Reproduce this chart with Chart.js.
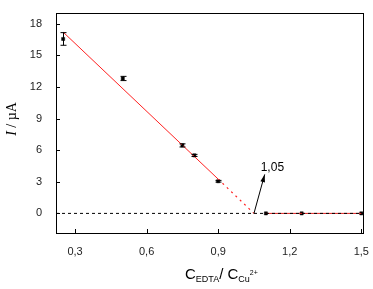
<!DOCTYPE html>
<html>
<head>
<meta charset="utf-8">
<script src="https://cdn.jsdelivr.net/npm/chart.js@4/dist/chart.umd.min.js"></script>
<style>
  html, body { margin: 0; padding: 0; background: #fff; }
  canvas { display: block; }
</style>
</head>
<body>
<canvas id="chart" width="373" height="289"></canvas>
<script>
// measured points (C_EDTA / C_Cu2+ vs I)
const ratio = [0.25, 0.5, 0.75, 0.8, 0.9, 1.1, 1.25, 1.5];
const current = [16.55, 12.8, 6.45, 5.5, 3.05, 0, 0, 0];
const currentErr = [0.6, 0.2, 0.15, 0.1, 0.08, 0, 0, 0];

// linear fit (solid part + extrapolated part) and plateau
const fitX = [0.25, 0.9];
const fitY = [17.2, 3.25];
const extX = [0.9, 1.05];
const extY = [3.25, 0];
const plateauX = [1.1, 1.5];
const plateauY = [0, 0];
const baseX = [0.22, 1.508];
const baseY = [0, 0];

// equivalence point annotation
const eqX = 1.05;
const eqLabel = '1,05';
const arrowTip = [1.095, 3.7];

const xTicks = [0.3, 0.6, 0.9, 1.2, 1.5];
const yTicks = [0, 3, 6, 9, 12, 15, 18];

const toXY = (xs, ys) => xs.map((x, i) => ({ x: x, y: ys[i] }));

const framePlugin = {
    id: 'frame',
    afterDatasetsDraw(chart) {
        const { ctx, chartArea: a, scales } = chart;
        const xs = scales.x, ys = scales.y;
        ctx.save();

        // error bars
        ctx.strokeStyle = '#000';
        ctx.lineWidth = 1;
        ratio.forEach((r, i) => {
            if (!currentErr[i]) return;
            const px = Math.round(xs.getPixelForValue(r)) + 0.5;
            const top = ys.getPixelForValue(current[i] + currentErr[i]);
            const bot = ys.getPixelForValue(current[i] - currentErr[i]);
            ctx.beginPath();
            ctx.moveTo(px, top); ctx.lineTo(px, bot);
            ctx.moveTo(px - 3, top); ctx.lineTo(px + 3, top);
            ctx.moveTo(px - 3, bot); ctx.lineTo(px + 3, bot);
            ctx.stroke();
        });

        // arrow to equivalence point
        const x0 = xs.getPixelForValue(eqX), y0 = ys.getPixelForValue(0);
        const x1 = xs.getPixelForValue(arrowTip[0]), y1 = ys.getPixelForValue(arrowTip[1]);
        ctx.beginPath();
        ctx.moveTo(x0, y0); ctx.lineTo(x1, y1);
        ctx.stroke();
        const ang = Math.atan2(y1 - y0, x1 - x0);
        ctx.fillStyle = '#000';
        ctx.beginPath();
        ctx.moveTo(x1, y1);
        ctx.lineTo(x1 - 8 * Math.cos(ang - 0.3), y1 - 8 * Math.sin(ang - 0.3));
        ctx.lineTo(x1 - 8 * Math.cos(ang + 0.3), y1 - 8 * Math.sin(ang + 0.3));
        ctx.closePath();
        ctx.fill();
        ctx.font = '12px "Liberation Sans", Arial, sans-serif';
        ctx.textAlign = 'left';
        ctx.textBaseline = 'alphabetic';
        ctx.fillText(eqLabel, x1 - 4, y1 - 3);

        // frame
        ctx.lineWidth = 1;
        ctx.strokeRect(Math.round(a.left) + 0.5, Math.round(a.top) + 0.5,
            Math.round(a.right - a.left), Math.round(a.bottom - a.top));

        // inward ticks
        ctx.beginPath();
        xTicks.forEach(v => {
            const px = Math.round(xs.getPixelForValue(v)) + 0.5;
            ctx.moveTo(px, a.bottom); ctx.lineTo(px, a.bottom - 4);
        });
        yTicks.forEach(v => {
            const py = Math.round(ys.getPixelForValue(v)) + 0.5;
            ctx.moveTo(a.left, py); ctx.lineTo(a.left + 4, py);
        });
        ctx.stroke();

        // y title: I / µA
        ctx.save();
        ctx.translate(16, 119);
        ctx.rotate(-Math.PI / 2);
        ctx.textAlign = 'left';
        ctx.font = 'italic 14px "Liberation Serif", serif';
        const iw = ctx.measureText('I').width;
        ctx.font = '14px "Liberation Serif", serif';
        const rest = ' / \u00b5A';
        const rw = ctx.measureText(rest).width;
        const start = -(iw + rw) / 2;
        ctx.font = 'italic 14px "Liberation Serif", serif';
        ctx.fillText('I', start, 0);
        ctx.font = '14px "Liberation Serif", serif';
        ctx.fillText(rest, start + iw, 0);
        ctx.restore();

        // x title: C_EDTA / C_Cu2+
        let cx = 185;
        const base = 279;
        const big = '15px "Liberation Sans", Arial, sans-serif';
        const sub = '9px "Liberation Sans", Arial, sans-serif';
        const sup = '7px "Liberation Sans", Arial, sans-serif';
        const put = (t, f, dy) => {
            ctx.font = f;
            ctx.fillText(t, cx, base + dy);
            cx += ctx.measureText(t).width;
        };
        ctx.textAlign = 'left';
        put('C', big, 0);
        put('EDTA', sub, 3);
        put('/ C', big, 0);
        put('Cu', sub, 3);
        put('2+', sup, -4);

        ctx.restore();
    }
};

new Chart(document.getElementById('chart'), {
    type: 'scatter',
    data: {
        datasets: [
            {
                type: 'line',
                data: toXY(baseX, baseY),
                borderColor: '#000',
                borderWidth: 1,
                borderDash: [3, 3],
                pointRadius: 0
            },
            {
                type: 'line',
                data: toXY(fitX, fitY),
                borderColor: '#ff2020',
                borderWidth: 1,
                pointRadius: 0
            },
            {
                type: 'line',
                data: toXY(extX, extY),
                borderColor: '#ff2020',
                borderWidth: 1.2,
                borderDash: [2, 4],
                pointRadius: 0
            },
            {
                type: 'line',
                data: toXY(plateauX, plateauY),
                borderColor: '#e02020',
                borderWidth: 1,
                pointRadius: 0
            },
            {
                data: toXY(ratio, current),
                pointStyle: 'rect',
                pointRadius: 2.2,
                backgroundColor: '#000',
                borderColor: '#000',
                borderWidth: 0.5
            }
        ]
    },
    options: {
        responsive: false,
        animation: false,
        layout: { padding: { top: 5, right: 9, left: 0, bottom: 0 } },
        plugins: { legend: { display: false }, tooltip: { enabled: false } },
        scales: {
            x: {
                type: 'linear',
                min: 0.22,
                max: 1.508,
                grid: { display: false },
                border: { display: false },
                afterBuildTicks: s => { s.ticks = xTicks.map(v => ({ value: v })); },
                afterFit: s => { s.height = 56; },
                ticks: {
                    padding: 4,
                    color: '#222',
                    font: { family: '"Liberation Sans", Arial, sans-serif', size: 11 },
                    callback: v => v.toFixed(1).replace('.', ',')
                }
            },
            y: {
                type: 'linear',
                min: -1.86,
                max: 19.05,
                grid: { display: false },
                border: { display: false },
                afterBuildTicks: s => { s.ticks = yTicks.map(v => ({ value: v })); },
                afterFit: s => { s.width = 56; },
                ticks: {
                    padding: 6,
                    color: '#222',
                    font: { family: '"Liberation Sans", Arial, sans-serif', size: 11 },
                    callback: v => String(v)
                }
            }
        }
    },
    plugins: [framePlugin]
});
</script>
</body>
</html>
